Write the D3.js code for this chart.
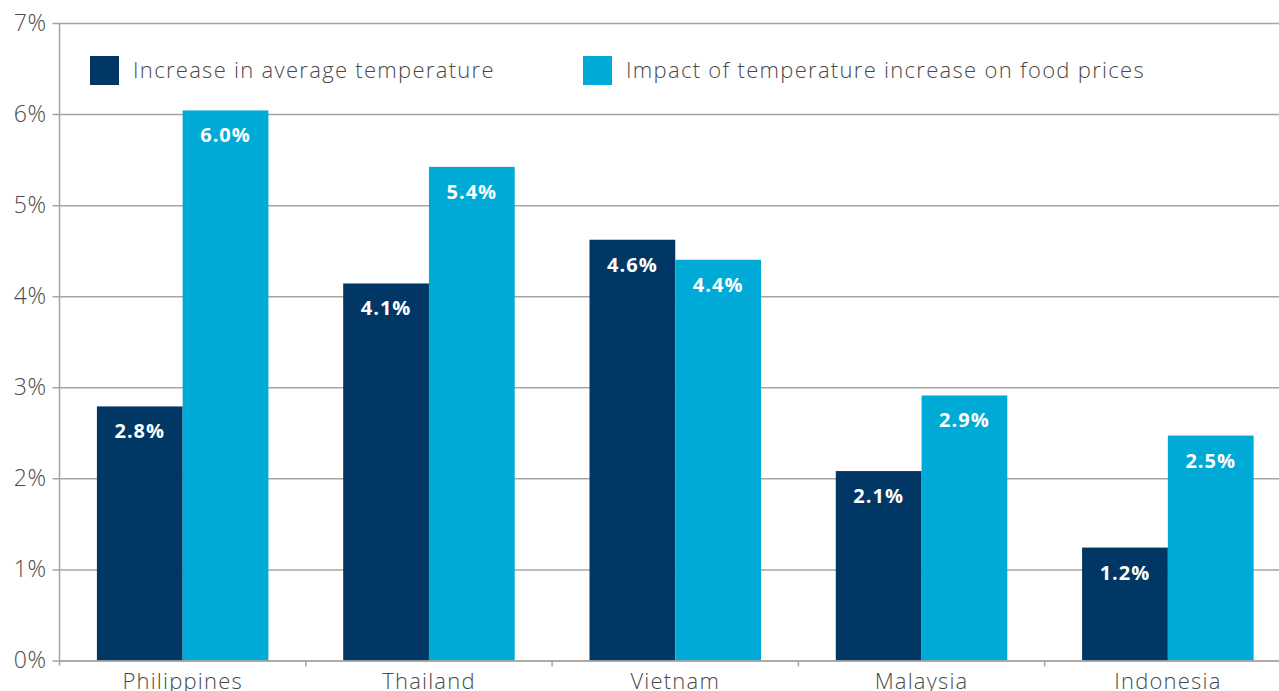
<!DOCTYPE html>
<html>
<head>
<meta charset="utf-8">
<script src="https://cdn.jsdelivr.net/npm/d3@7"></script>
<style>
  html, body { margin: 0; padding: 0; background: #fff; }
  svg { display: block; }
</style>
</head>
<body>
<svg id="chart"></svg>
<script>
const categories = ['Philippines', 'Thailand', 'Vietnam', 'Malaysia', 'Indonesia'];
const seriesNames = ['Increase in average temperature', 'Impact of temperature increase on food prices'];
const avgTemp = [2.79, 4.14, 4.62, 2.08, 1.24];
const foodPrices = [6.04, 5.42, 4.40, 2.91, 2.47];
const avgTempLabels = ['2.8%', '4.1%', '4.6%', '2.1%', '1.2%'];
const foodPriceLabels = ['6.0%', '5.4%', '4.4%', '2.9%', '2.5%'];
const yTicks = [0, 1, 2, 3, 4, 5, 6, 7];
const colours = ['#003764', '#00aad7'];

const width = 1279, height = 691;
const margin = {top: 23, right: -12, bottom: 30.5, left: 59.5};

const svg = d3.select('#chart')
    .attr('width', width)
    .attr('height', height);

const x = d3.scaleBand()
    .domain(categories)
    .range([margin.left, width - margin.right]);

const inner = d3.scaleBand()
    .domain([0, 1])
    .range([0, x.bandwidth()])
    .paddingInner(0)
    .paddingOuter(0.436);

const y = d3.scaleLinear()
    .domain([0, 7])
    .range([height - margin.bottom, margin.top]);

const gridColour = '#a8a5a1';
const textColour = '#4a4a4a';
const fontFamily = '"Open Sans", Lato, sans-serif';

// gridlines + y labels
const yAxis = svg.append('g')
    .attr('transform', `translate(${margin.left},0)`)
    .call(d3.axisLeft(y)
        .tickValues(yTicks)
        .tickSize(-(width - margin.left))
        .tickFormat(d => `${d}%`));
yAxis.select('.domain').remove();
yAxis.selectAll('.tick line')
    .attr('x1', -7)
    .attr('stroke', gridColour)
    .attr('stroke-width', 1.5);
yAxis.selectAll('.tick text')
    .attr('x', -13)
    .attr('fill', textColour)
    .attr('font-family', fontFamily)
    .attr('font-weight', 300)
    .attr('font-size', '23px')
    .attr('letter-spacing', '0.5px');

// vertical axis line
svg.append('line')
    .attr('x1', margin.left).attr('x2', margin.left)
    .attr('y1', y(7)).attr('y2', y(0) + 5)
    .attr('stroke', gridColour)
    .attr('stroke-width', 1.5);

// bars
const rows = categories.map((c, i) => ({
    category: c,
    values: [
        {s: 0, v: avgTemp[i], label: avgTempLabels[i]},
        {s: 1, v: foodPrices[i], label: foodPriceLabels[i]}
    ]
}));

const groups = svg.append('g')
    .selectAll('g')
    .data(rows)
    .join('g')
    .attr('transform', d => `translate(${x(d.category)},0)`);

groups.selectAll('rect')
    .data(d => d.values)
    .join('rect')
    .attr('x', d => inner(d.s))
    .attr('width', inner.bandwidth())
    .attr('y', d => y(d.v))
    .attr('height', d => y(0) - y(d.v))
    .attr('fill', d => colours[d.s]);

groups.selectAll('text')
    .data(d => d.values)
    .join('text')
    .attr('x', d => inner(d.s) + inner.bandwidth() / 2)
    .attr('y', d => y(d.v) + 32)
    .attr('text-anchor', 'middle')
    .attr('fill', '#ffffff')
    .attr('font-family', fontFamily)
    .attr('font-weight', 700)
    .attr('font-size', '20px')
    .attr('letter-spacing', '1px')
    .text(d => d.label);

// x axis
const xAxis = svg.append('g')
    .attr('transform', `translate(0,${y(0)})`)
    .call(d3.axisBottom(x).tickSize(0).tickPadding(10));
xAxis.select('.domain')
    .attr('stroke', gridColour)
    .attr('stroke-width', 1.5);
xAxis.selectAll('.tick text')
    .attr('dy', '0.85em')
    .attr('fill', textColour)
    .attr('font-family', fontFamily)
    .attr('font-weight', 300)
    .attr('font-size', '22px')
    .attr('letter-spacing', '1.2px');

// category separator ticks
svg.append('g')
    .selectAll('line')
    .data(categories.slice(1))
    .join('line')
    .attr('x1', d => x(d)).attr('x2', d => x(d))
    .attr('y1', y(0)).attr('y2', y(0) + 6)
    .attr('stroke', gridColour)
    .attr('stroke-width', 1.5);

// legend
const legendX = [90, 583];
const legend = svg.append('g')
    .selectAll('g')
    .data(seriesNames)
    .join('g')
    .attr('transform', (d, i) => `translate(${legendX[i]},56)`);

legend.append('rect')
    .attr('width', 29)
    .attr('height', 29)
    .attr('fill', (d, i) => colours[i]);

legend.append('text')
    .attr('x', 43)
    .attr('y', 13)
    .attr('dominant-baseline', 'central')
    .attr('fill', textColour)
    .attr('font-family', fontFamily)
    .attr('font-weight', 300)
    .attr('font-size', '22px')
    .attr('letter-spacing', '1.3px')
    .text(d => d);
</script>
</body>
</html>
